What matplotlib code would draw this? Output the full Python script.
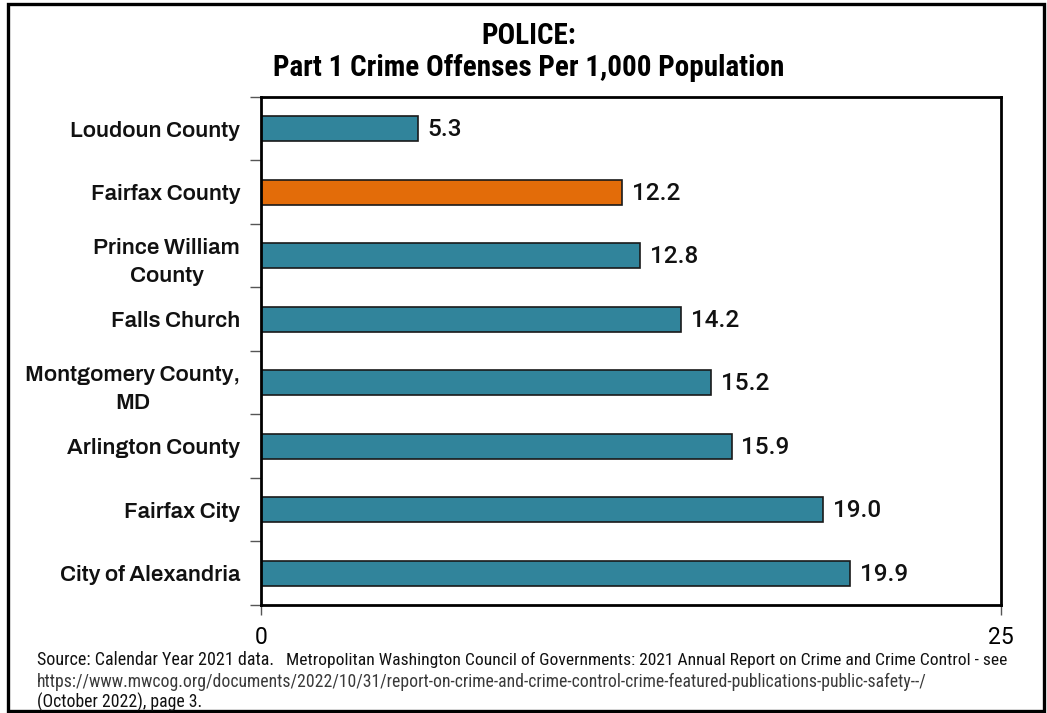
import matplotlib
matplotlib.use("Agg")
import matplotlib.pyplot as plt
from matplotlib.patches import Rectangle
from matplotlib.ticker import FixedLocator

# Data
categories = ["Loudoun County", "Fairfax County", "Prince William\nCounty",
              "Falls Church", "Montgomery County,\nMD", "Arlington County",
              "Fairfax City", "City of Alexandria"]
values = [5.3, 12.2, 12.8, 14.2, 15.2, 15.9, 19.0, 19.9]
highlight = "Fairfax County"
x_ticks = [0, 25]

TEAL = "#31849B"
ORANGE = "#E36C09"

COND = ["Roboto Condensed", "DejaVu Sans"]
LABEL = ["Archivo", "Open Sans", "DejaVu Sans"]
VALUE = ["Roboto", "Open Sans", "DejaVu Sans"]

fig = plt.figure(figsize=(10.47, 7.13), dpi=100)
ax = fig.add_axes([0.2493, 0.1515, 0.7067, 0.7125])

ypos = list(range(len(categories)))
colors = [ORANGE if c == highlight else TEAL for c in categories]
ax.barh(ypos, values, height=0.4, color=colors, edgecolor="#1a1a1a", linewidth=1.2)

for y, v in zip(ypos, values):
    ax.text(v + 0.33, y + 0.02, f"{v:.1f}", va="center", ha="left", fontsize=17.5,
            family=VALUE, fontweight="medium", color="#111111")

ax.set_xlim(0, 25)
ax.set_ylim(len(categories) - 0.5, -0.5)
ax.set_xticks(x_ticks)
ax.set_xticklabels([str(t) for t in x_ticks], fontsize=16.5, family=VALUE)
ax.tick_params(axis="x", length=7, width=1, color="#555555", pad=8)

ax.set_yticks(ypos)
ax.set_yticklabels(categories, fontsize=16, family=LABEL, fontweight="semibold",
                   multialignment="center", linespacing=1.5, color="#111111")
ax.tick_params(axis="y", length=0, pad=15)
ax.yaxis.set_minor_locator(FixedLocator([i - 0.5 for i in range(len(categories) + 1)]))
ax.tick_params(axis="y", which="minor", length=8, width=1, color="#555555")

for s in ax.spines.values():
    s.set_linewidth(2)
    s.set_color("black")

fig.text(0.505, 0.950, "POLICE:", ha="center", va="center", fontsize=21,
         family=COND, fontweight="bold")
fig.text(0.505, 0.905, "Part 1 Crime Offenses Per 1,000 Population", ha="center",
         va="center", fontsize=21, family=COND, fontweight="bold")

src1a = "Source: Calendar Year 2021 data."
src1b = ("Metropolitan Washington Council of Governments: "
         "2021 Annual Report on Crime and Crime Control - see")
src2 = ("https://www.mwcog.org/documents/2022/10/31/report-on-crime-and-crime-control-"
        "crime-featured-publications-public-safety--/")
src3 = "(October 2022), page 3."
t1 = fig.text(0.035, 0.074, src1a, ha="left", va="center", fontsize=13,
              family=COND, color="#111111")
fig.canvas.draw()
bb = t1.get_window_extent()
x_next = (bb.x1 + 12) / fig.bbox.width
fig.text(x_next, 0.074, src1b, ha="left", va="center", fontsize=12.6,
         family=COND, color="#111111")
fig.text(0.035, 0.044, src2, ha="left", va="center", fontsize=12.7,
         family=COND, color="#3a3a3a")
fig.text(0.035, 0.015, src3, ha="left", va="center", fontsize=12.7,
         family=COND, color="#111111")

fig.add_artist(Rectangle((8 / 1047, 2 / 713), 1036 / 1047, 707 / 713,
                         transform=fig.transFigure, fill=False,
                         edgecolor="black", linewidth=2.4))

fig.savefig("out.png", dpi=100)
